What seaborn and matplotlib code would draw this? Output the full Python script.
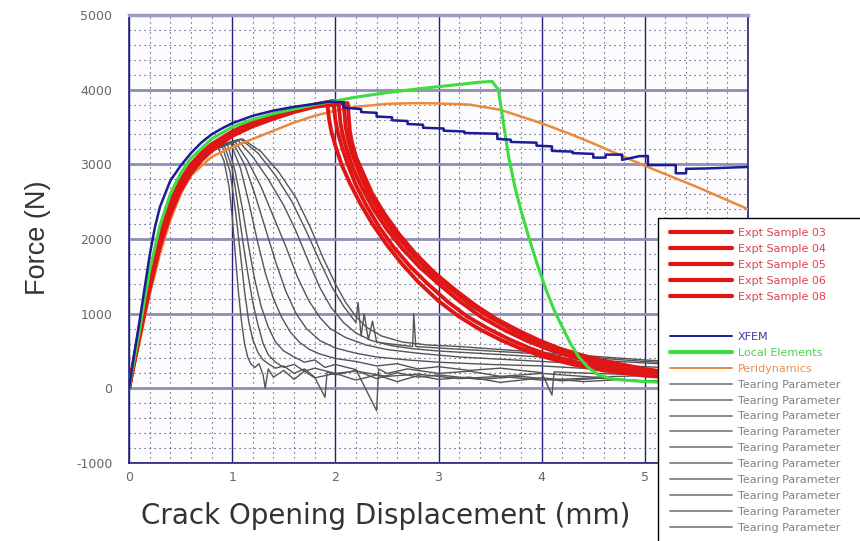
import matplotlib
matplotlib.use("Agg")
import matplotlib.pyplot as plt
import seaborn as sns
import pandas as pd
from matplotlib.lines import Line2D
from matplotlib.patches import Rectangle
from matplotlib.ticker import MultipleLocator

sns.set_theme(style="white")
plt.rcParams['font.family'] = ['DejaVu Sans']
plt.rcParams['axes.unicode_minus'] = False

# ---------------- data ----------------
x_ticks = [0, 1, 2, 3, 4, 5, 6]
x_tick_labels = ['0', '1', '2', '3', '4', '5', '']
y_ticks = [-1000, 0, 1000, 2000, 3000, 4000, 5000]
y_tick_labels = ['-1000', '0', '1000', '2000', '3000', '4000', '5000']

xfem_x = [0, 0.05, 0.1, 0.15, 0.2, 0.25, 0.3, 0.4, 0.5, 0.6, 0.7, 0.8, 0.9, 1.0, 1.2, 1.4, 1.6, 1.8, 1.95,
          2.08, 2.08, 2.25, 2.25, 2.4, 2.4, 2.55, 2.55, 2.7, 2.7, 2.85, 2.85, 3.05, 3.05, 3.25, 3.25, 3.57, 3.57,
          3.7, 3.7, 3.95, 3.95, 4.1, 4.1, 4.3, 4.3, 4.5, 4.5, 4.62, 4.62, 4.78, 4.78, 4.95, 5.03, 5.03, 5.3, 5.3,
          5.4, 5.4, 5.6, 6.0]
xfem_f = [0, 450, 880, 1330, 1780, 2150, 2430, 2780, 2980, 3150, 3290, 3400, 3480, 3550, 3650, 3720, 3770, 3810, 3840,
          3830, 3760, 3740, 3700, 3690, 3640, 3630, 3590, 3580, 3540, 3530, 3490, 3480, 3450, 3440, 3420, 3410, 3340,
          3330, 3300, 3290, 3250, 3240, 3180, 3170, 3150, 3140, 3090, 3090, 3130, 3130, 3060, 3110, 3110, 2990, 2990, 2880,
          2880, 2940, 2945, 2965]

local_x = [0, 0.05, 0.1, 0.15, 0.2, 0.3, 0.4, 0.5, 0.6, 0.8, 1.0, 1.2, 1.4, 1.6, 1.8, 2.0, 2.2, 2.5, 2.8, 3.0,
           3.2, 3.4, 3.52, 3.58, 3.63, 3.68, 3.74, 3.8, 3.88, 3.96, 4.04, 4.12, 4.2, 4.28, 4.36, 4.45, 4.55, 4.7,
           5.0, 5.5, 6.0]
local_f = [0, 380, 760, 1180, 1580, 2180, 2600, 2880, 3080, 3340, 3500, 3600, 3680, 3740, 3800, 3850, 3900, 3960,
           4010, 4040, 4070, 4100, 4110, 4000, 3550, 3100, 2700, 2380, 2000, 1650, 1330, 1050, 820, 600, 420, 280,
           180, 120, 90, 70, 60]

peri_x = [0, 0.05, 0.1, 0.15, 0.2, 0.3, 0.4, 0.5, 0.6, 0.8, 1.0, 1.2, 1.4, 1.6, 1.8, 2.0, 2.2, 2.5, 2.8, 3.0,
          3.3, 3.6, 3.8, 4.0, 4.25, 4.5, 4.75, 5.0, 5.25, 5.5, 5.75, 6.0]
peri_f = [0, 300, 600, 930, 1250, 1800, 2250, 2600, 2850, 3100, 3230, 3340, 3450, 3560, 3650, 3720, 3770,
          3810, 3820, 3815, 3800, 3730, 3640, 3550, 3420, 3280, 3130, 2980, 2840, 2700, 2550, 2400]

# experimental samples (red)
e03_x = [0, 0.05, 0.1, 0.15, 0.2, 0.3, 0.4, 0.5, 0.6, 0.7, 0.8, 1.0, 1.2, 1.4, 1.6, 1.8, 1.92, 1.94, 1.96, 2.0,
         2.06, 2.14, 2.24, 2.36, 2.5, 2.65, 2.8, 3.0, 3.2, 3.4, 3.6, 3.8, 4.0, 4.3, 4.6, 5.0, 5.5, 6.0]
e03_f = [0, 400, 790, 1150, 1500, 2080, 2500, 2790, 3000, 3150, 3270, 3440, 3570, 3670, 3740, 3800, 3830, 3600,
         3450, 3250, 3000, 2750, 2480, 2200, 1920, 1660, 1430, 1170, 960, 790, 650, 530, 430, 320, 240, 170, 120, 90]
e04_x = [0, 0.05, 0.1, 0.15, 0.2, 0.3, 0.4, 0.5, 0.6, 0.7, 0.8, 1.0, 1.2, 1.4, 1.6, 1.8, 1.98, 2.0, 2.02, 2.06,
         2.12, 2.2, 2.3, 2.42, 2.56, 2.72, 2.88, 3.08, 3.28, 3.48, 3.68, 3.88, 4.08, 4.4, 4.7, 5.1, 5.6, 6.0]
e04_f = [0, 380, 760, 1110, 1450, 2020, 2450, 2750, 2960, 3120, 3240, 3420, 3550, 3650, 3730, 3800, 3850, 3600,
         3450, 3250, 3000, 2720, 2450, 2170, 1900, 1640, 1420, 1170, 960, 800, 660, 540, 440, 330, 250, 180, 130, 100]
e05_x = [0, 0.05, 0.1, 0.15, 0.2, 0.3, 0.4, 0.5, 0.6, 0.7, 0.8, 1.0, 1.2, 1.4, 1.6, 1.8, 2.03, 2.05, 2.07, 2.11,
         2.17, 2.26, 2.37, 2.5, 2.65, 2.82, 3.0, 3.2, 3.42, 3.64, 3.85, 4.05, 4.25, 4.55, 4.85, 5.2, 5.6, 6.0]
e05_f = [0, 360, 720, 1070, 1400, 1970, 2400, 2700, 2920, 3090, 3210, 3400, 3530, 3630, 3720, 3790, 3840, 3550,
         3400, 3200, 2950, 2680, 2400, 2130, 1870, 1620, 1400, 1170, 950, 780, 640, 530, 440, 330, 250, 180, 140, 110]
e06_x = [0, 0.05, 0.1, 0.15, 0.2, 0.3, 0.4, 0.5, 0.6, 0.7, 0.8, 1.0, 1.2, 1.4, 1.6, 1.8, 2.08, 2.1, 2.12, 2.16,
         2.22, 2.31, 2.42, 2.56, 2.72, 2.9, 3.1, 3.3, 3.5, 3.72, 3.92, 4.12, 4.32, 4.6, 4.9, 5.25, 5.65, 6.0]
e06_f = [0, 350, 700, 1040, 1370, 1940, 2370, 2680, 2900, 3070, 3200, 3390, 3520, 3620, 3710, 3780, 3830, 3500,
         3350, 3150, 2930, 2650, 2380, 2100, 1840, 1580, 1350, 1130, 950, 780, 640, 530, 440, 340, 260, 190, 140, 110]
e08_x = [0, 0.05, 0.1, 0.15, 0.2, 0.3, 0.4, 0.5, 0.6, 0.7, 0.8, 1.0, 1.2, 1.4, 1.6, 1.8, 2.12, 2.14, 2.16, 2.2,
         2.27, 2.36, 2.48, 2.62, 2.78, 2.96, 3.16, 3.36, 3.56, 3.78, 3.98, 4.18, 4.4, 4.7, 5.0, 5.3, 5.7, 6.0]
e08_f = [0, 340, 680, 1010, 1330, 1900, 2330, 2650, 2880, 3050, 3180, 3380, 3510, 3610, 3700, 3770, 3820, 3450,
         3300, 3100, 2880, 2600, 2330, 2060, 1800, 1550, 1320, 1110, 930, 770, 640, 530, 440, 340, 260, 200, 150, 120]

# tearing parameter curves (grey): common loading branch + individual softening branches
tp_rise_x = [0, 0.05, 0.1, 0.15, 0.2, 0.3, 0.4, 0.5, 0.6, 0.7, 0.8]
tp_rise_f = [0, 420, 800, 1150, 1480, 2030, 2430, 2720, 2920, 3070, 3180]

tp1_x = [0.86, 0.92, 0.97, 1.0, 1.03, 1.06, 1.09, 1.12, 1.15, 1.18, 1.22, 1.26, 1.3, 1.32, 1.35, 1.4, 1.5, 1.6,
         1.7, 1.8, 2.0, 2.2, 2.4, 2.6, 2.8, 3.0, 3.3, 3.6, 4.0, 4.4, 4.8, 5.2, 5.6, 6.0]
tp1_f = [3230, 3050, 2700, 2300, 1800, 1300, 900, 600, 420, 330, 280, 330, 180, 0, 260, 150, 240, 120, 230, 140,
         200, 110, 180, 90, 170, 120, 150, 80, 140, 90, 120, 70, 110, 80]
tp2_x = [0.9, 0.98, 1.03, 1.08, 1.12, 1.16, 1.2, 1.25, 1.3, 1.36, 1.42, 1.5, 1.6, 1.7, 1.8, 1.9, 1.92, 2.0, 2.2,
         2.4, 2.6, 2.8, 3.0, 3.4, 3.8, 4.2, 4.6, 5.0, 5.5, 6.0]
tp2_f = [3260, 2900, 2400, 1800, 1300, 900, 650, 480, 380, 320, 270, 300, 200, 260, 150, -120, 220, 180, 240,
         130, 210, 150, 180, 120, 160, 100, 140, 90, 120, 80]
tp3_x = [0.95, 1.03, 1.1, 1.16, 1.22, 1.28, 1.35, 1.42, 1.5, 1.6, 1.7, 1.8, 1.9, 2.0, 2.2, 2.4, 2.42, 2.5, 2.7,
         3.0, 3.3, 3.6, 4.0, 4.5, 5.0, 5.5, 6.0]
tp3_f = [3290, 2900, 2400, 1900, 1450, 1100, 820, 620, 500, 420, 350, 380, 280, 320, 250, -300, 260, 200, 260,
         200, 230, 160, 200, 150, 170, 120, 130]
tp4_x = [0.98, 1.08, 1.16, 1.24, 1.32, 1.4, 1.48, 1.56, 1.65, 1.75, 1.85, 2.0, 2.2, 2.4, 2.6, 2.8, 3.0, 3.3, 3.6,
         4.0, 4.1, 4.12, 4.5, 5.0, 5.5, 6.0]
tp4_f = [3300, 2950, 2500, 2000, 1550, 1200, 950, 760, 620, 520, 460, 400, 360, 300, 330, 260, 290, 240, 270,
         210, -90, 220, 200, 180, 160, 150]
tp5_x = [1.0, 1.12, 1.22, 1.32, 1.42, 1.52, 1.62, 1.72, 1.85, 2.0, 2.2, 2.4, 2.7, 3.0, 3.5, 4.0, 4.5, 5.0, 5.5, 6.0]
tp5_f = [3310, 3000, 2600, 2150, 1700, 1300, 1000, 800, 640, 540, 470, 420, 380, 350, 320, 300, 260, 240, 220, 200]
tp6_x = [1.02, 1.15, 1.28, 1.4, 1.52, 1.63, 1.74, 1.85, 1.95, 2.1, 2.3, 2.5, 2.8, 3.2, 3.6, 4.0, 4.5, 5.0, 5.5, 6.0]
tp6_f = [3320, 3050, 2700, 2300, 1900, 1500, 1180, 950, 800, 680, 580, 520, 470, 420, 390, 360, 320, 290, 260, 240]
tp7_x = [1.05, 1.2, 1.35, 1.5, 1.62, 1.74, 1.85, 1.96, 2.08, 2.2, 2.35, 2.55, 2.75, 3.0, 3.5, 4.0, 4.5, 5.0, 5.5, 6.0]
tp7_f = [3330, 3100, 2800, 2450, 2100, 1700, 1350, 1080, 880, 740, 640, 570, 530, 500, 460, 420, 380, 340, 300, 270]
tp8_x = [1.08, 1.25, 1.42, 1.58, 1.72, 1.85, 1.97, 2.08, 2.2, 2.22, 2.25, 2.28, 2.32, 2.36, 2.4, 2.5, 2.75, 2.76,
         2.78, 3.0, 3.5, 4.0, 4.5, 5.0, 5.5, 6.0]
tp8_f = [3340, 3150, 2850, 2500, 2100, 1700, 1350, 1100, 880, 1150, 700, 1000, 650, 900, 620, 600, 560, 1000,
         560, 540, 500, 460, 410, 360, 320, 290]
tp9_x = [1.1, 1.28, 1.45, 1.62, 1.76, 1.88, 2.0, 2.1, 2.2, 2.3, 2.45, 2.65, 2.9, 3.2, 3.6, 4.0, 4.5, 5.0, 5.5, 6.0]
tp9_f = [3340, 3170, 2900, 2550, 2150, 1750, 1400, 1150, 960, 820, 700, 620, 580, 560, 520, 480, 430, 380, 340, 300]
tp10_x = [0.92, 1.0, 1.05, 1.1, 1.15, 1.2, 1.25, 1.3, 1.35, 1.42, 1.5, 1.6, 1.7, 1.8, 2.0, 2.2, 2.5, 2.8, 3.2,
          3.6, 4.0, 4.5, 5.0, 5.5, 6.0]
tp10_f = [3270, 2950, 2500, 2000, 1550, 1150, 850, 600, 450, 350, 280, 320, 230, 270, 200, 230, 160, 190, 130,
          160, 110, 140, 100, 120, 90]

expt_labels = ['Expt Sample 03', 'Expt Sample 04', 'Expt Sample 05', 'Expt Sample 06', 'Expt Sample 08']
model_labels = ['XFEM', 'Local Elements', 'Peridynamics']
tear_label = 'Tearing Parameter'

# ---------------- build tables ----------------
expt_series = [(e03_x, e03_f), (e04_x, e04_f), (e05_x, e05_f), (e06_x, e06_f), (e08_x, e08_f)]
tp_series = [(tp1_x, tp1_f), (tp2_x, tp2_f), (tp3_x, tp3_f), (tp4_x, tp4_f), (tp5_x, tp5_f),
             (tp6_x, tp6_f), (tp7_x, tp7_f), (tp8_x, tp8_f), (tp9_x, tp9_f), (tp10_x, tp10_f)]

rows = []
for i, (xs, fs) in enumerate(tp_series):
    for x, f in zip(tp_rise_x + xs, tp_rise_f + fs):
        rows.append({'cod': x, 'force': f, 'curve': f'tp{i}'})
tp_df = pd.DataFrame(rows)

rows = []
for lab, (xs, fs) in zip(expt_labels, expt_series):
    for x, f in zip(xs, fs):
        rows.append({'cod': x, 'force': f, 'curve': lab})
expt_df = pd.DataFrame(rows)

xfem_df = pd.DataFrame({'cod': xfem_x, 'force': xfem_f})
local_df = pd.DataFrame({'cod': local_x, 'force': local_f})
peri_df = pd.DataFrame({'cod': peri_x, 'force': peri_f})

# ---------------- colours ----------------
c_grey = '#555555'
c_red = '#e01515'
c_blue = '#1c1c96'
c_green = '#3fdc3f'
c_orange = '#ea8a3c'
c_major_v = '#22227a'
c_major_h = '#8e8eb6'

# ---------------- figure ----------------
fig = plt.figure(figsize=(8.6, 5.41), dpi=100)
ax = fig.add_axes([129 / 860, 1 - 463 / 541, (748 - 129) / 860, (463 - 15) / 541])
ax.set_facecolor('#fcfcff')

sns.lineplot(data=tp_df, x='cod', y='force', units='curve', estimator=None, sort=False,
             color=c_grey, lw=1.0, ax=ax, zorder=3, legend=False)
sns.lineplot(data=peri_df, x='cod', y='force', estimator=None, sort=False,
             color=c_orange, lw=1.8, ax=ax, zorder=4)
sns.lineplot(data=expt_df, x='cod', y='force', units='curve', estimator=None, sort=False,
             color=c_red, lw=2.8, ax=ax, zorder=5, legend=False)
sns.lineplot(data=local_df, x='cod', y='force', estimator=None, sort=False,
             color=c_green, lw=2.2, ax=ax, zorder=6)
sns.lineplot(data=xfem_df, x='cod', y='force', estimator=None, sort=False,
             color=c_blue, lw=1.8, ax=ax, zorder=7)

ax.set_xlim(0, 6)
ax.set_ylim(-1000, 5000)
ax.set_xticks(x_ticks)
ax.set_xticklabels(x_tick_labels)
ax.set_yticks(y_ticks)
ax.set_yticklabels(y_tick_labels)
ax.xaxis.set_minor_locator(MultipleLocator(0.2))
ax.yaxis.set_minor_locator(MultipleLocator(200))
ax.tick_params(which='both', length=0)
ax.tick_params(axis='y', pad=12, labelsize=9, labelcolor='#666666')
ax.tick_params(axis='x', pad=6, labelsize=9, labelcolor='#666666')

ax.set_axisbelow(True)
ax.grid(which='minor', color='#3a3a55', lw=0.8, linestyle=(0, (1, 3.5)))
ax.grid(which='major', axis='x', color=c_major_v, lw=1.0)
ax.grid(which='major', axis='y', color=c_major_h, lw=2.0)

for side in ['left', 'bottom', 'right']:
    ax.spines[side].set_color(c_major_v)
    ax.spines[side].set_linewidth(1.2)
ax.spines['top'].set_color('#9c9cc4')
ax.spines['top'].set_linewidth(2.5)

ax.set_xlabel('Crack Opening Displacement (mm)', fontsize=20, color='#333333',
              family=['DejaVu Sans'])
ax.xaxis.set_label_coords((385.5 - 129) / 619, -0.088)
ax.set_ylabel('Force (N)', fontsize=19.5, color='#333333',
              family=['Liberation Sans', 'DejaVu Sans'])
ax.yaxis.set_label_coords((51 - 129) / 619, (463 - 238) / 448)

# ---------------- legend ----------------
frame = Rectangle((658 / 860, -0.02), 0.3, (1 - 218 / 541) + 0.02, transform=fig.transFigure,
                  facecolor='white', edgecolor='black', lw=1.0, zorder=10)
fig.add_artist(frame)

h_expt = [Line2D([], [], color=c_red, lw=3.0) for _ in expt_labels]
leg1 = fig.legend(h_expt, expt_labels, loc='upper left', bbox_to_anchor=(670 / 860, 1 - 228 / 541),
                  frameon=False, fontsize=8, handlelength=5.6, handletextpad=0.5, labelspacing=0.53,
                  borderpad=0, borderaxespad=0)
for t in leg1.get_texts():
    t.set_color('#e0404c')
leg1.set_zorder(11)

h_other = [Line2D([], [], color=c_blue, lw=1.4), Line2D([], [], color=c_green, lw=3.0),
           Line2D([], [], color=c_orange, lw=1.4)] + [Line2D([], [], color='#8a8a8a', lw=1.4) for _ in range(10)]
labs_other = model_labels + [tear_label] * 10
leg2 = fig.legend(h_other, labs_other, loc='upper left', bbox_to_anchor=(670 / 860, 1 - 332 / 541),
                  frameon=False, fontsize=8, handlelength=5.6, handletextpad=0.5, labelspacing=0.53,
                  borderpad=0, borderaxespad=0)
text_cols = ['#3a3a9a', '#50d050', '#e89050'] + ['#808080'] * 10
for t, c in zip(leg2.get_texts(), text_cols):
    t.set_color(c)
leg2.set_zorder(11)

fig.savefig('out.png', dpi=100)
